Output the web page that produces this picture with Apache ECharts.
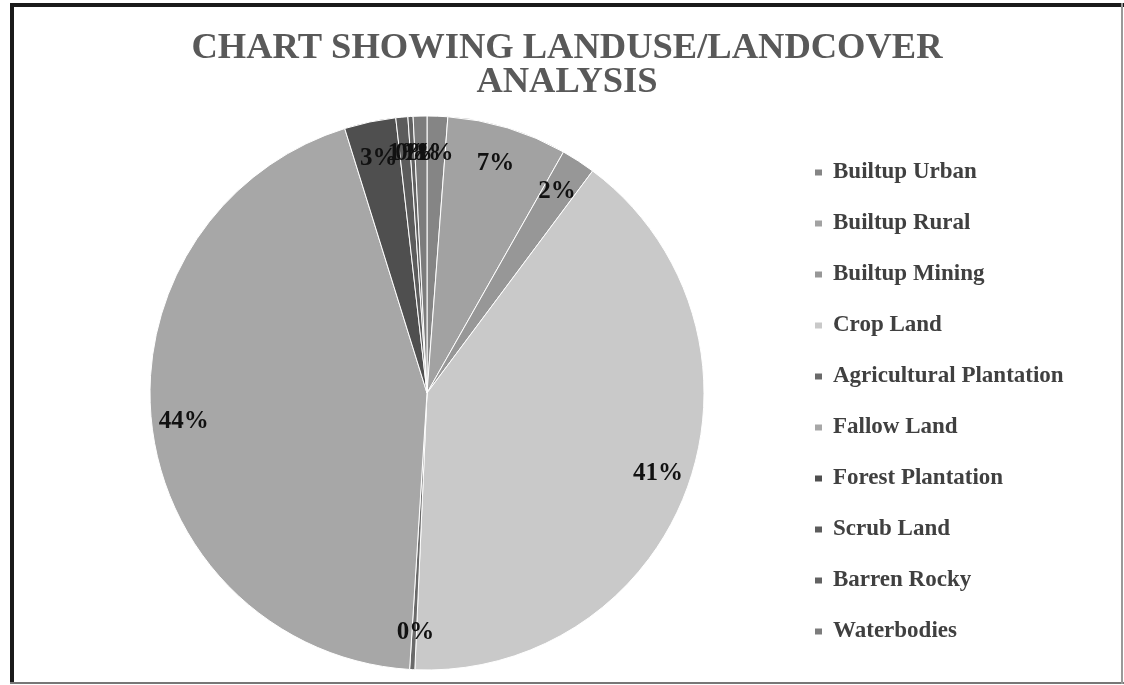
<!DOCTYPE html>
<html>
<head>
<meta charset="utf-8">
<script src="https://cdn.jsdelivr.net/npm/echarts@6/dist/echarts.min.js"></script>
<style>html,body{margin:0;padding:0;background:#fff;}#c{width:1124px;height:685px;}</style>
</head>
<body>
<div id="c"></div>
<script>
const categories = ['Builtup Urban','Builtup Rural','Builtup Mining','Crop Land','Agricultural Plantation','Fallow Land','Forest Plantation','Scrub Land','Barren Rocky','Waterbodies'];
const values = [1.2, 7.0, 2.0, 40.5, 0.3, 44.2, 3.0, 0.7, 0.3, 0.8];
const colors = ['#858585','#a2a2a2','#979797','#c9c9c9','#6a6a6a','#a7a7a7','#4f4f4f','#5c5c5c','#626262','#7c7c7c'];
const titleText = 'CHART SHOWING LANDUSE/LANDCOVER\nANALYSIS';

const total = values.reduce((a,b)=>a+b,0);
const serif = '"Liberation Serif","Times New Roman",serif';
const data = categories.map((n,i)=>({name:n, value:values[i], itemStyle:{color:colors[i]}}));
const chart = echarts.init(document.getElementById('c'));
chart.setOption({
  animation:false,
  backgroundColor:'#fff',
  color: colors,
  title:{
    text:titleText, left:562, top:27, textAlign:'center',
    textStyle:{fontFamily:serif, fontSize:36.5, fontWeight:'bold', color:'#595959', lineHeight:34}
  },
  legend:{
    orient:'vertical', left:808, top:156, itemWidth:9, itemHeight:8, itemGap:28,
    icon:'rect', data:categories,
    textStyle:{fontFamily:serif, fontSize:23, fontWeight:'bold', color:'#404040', lineHeight:21, padding:[0,0,0,5]}
  },
  graphic:[
    {type:'rect', shape:{x:10,y:3,width:1114,height:4}, style:{fill:'#1a1a1a'}},
    {type:'rect', shape:{x:10,y:3,width:4,height:681}, style:{fill:'#1a1a1a'}},
    {type:'rect', shape:{x:10,y:682,width:1114,height:2}, style:{fill:'#777'}},
    {type:'rect', shape:{x:1121,y:3,width:2,height:681}, style:{fill:'#999'}}
  ],
  series:[
    {
      type:'pie', center:[427,393], radius:[0,277], startAngle:90, clockwise:true,
      avoidLabelOverlap:false, label:{show:false}, labelLine:{show:false},
      itemStyle:{borderColor:'#fff', borderWidth:1},
      emphasis:{disabled:true},
      data:data
    },
    {
      type:'pie', center:[427,393], radius:[0,277], startAngle:90, clockwise:true,
      avoidLabelOverlap:false, silent:true, legendHoverLink:false,
      itemStyle:{color:'rgba(0,0,0,0)', borderWidth:0},
      labelLine:{show:false, length:-37, length2:-25},
      labelLayout:{hideOverlap:false},
      label:{show:true, position:'outside', alignTo:'none', fontFamily:serif, fontSize:25, fontWeight:'bold', color:'#111',
        formatter:p=>Math.round(p.value/total*100+1e-9)+'%'},
      emphasis:{disabled:true},
      data:categories.map((n,i)=>({name:n, value:values[i]}))
    }
  ]
});
</script>
</body>
</html>
